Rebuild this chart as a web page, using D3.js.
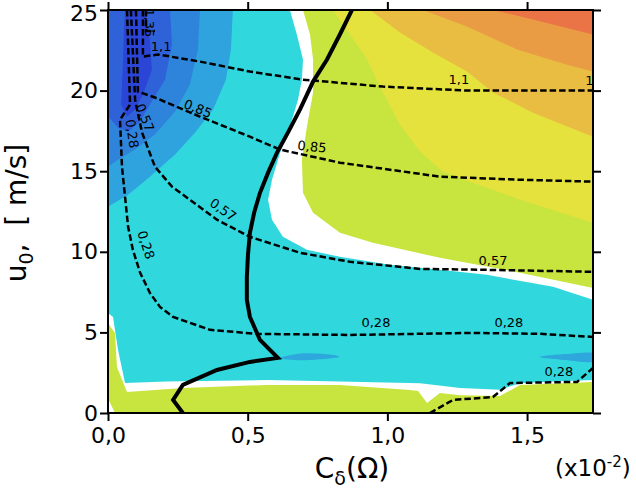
<!DOCTYPE html>
<html>
<head>
<meta charset="utf-8">
<script src="https://cdn.jsdelivr.net/npm/d3@7"></script>
<style>
  body { margin: 0; background: #fff; }
  text { font-family: "DejaVu Sans", Verdana, sans-serif; }
</style>
</head>
<body>
<div id="chart"></div>
<script>
const width = 636, height = 497;

// axes
const xTicks = [0, 0.5, 1.0, 1.5];
const yTicks = [0, 5, 10, 15, 20, 25];

// filled bands, [C_delta (x1e-2), u0 (m/s)]
const whiteZone = [[0,25],[0.698,25],[0.723,23.48],[0.734,21.93],[0.734,19.88],[0.712,17.76],[0.694,15.71],[0.698,13.66],[0.734,12.42],[0.830,11.18],[0.948,10.56],[1.188,9.63],[1.475,8.70],[1.736,7.76],[1.736,1.93],[1.475,1.74],[1.403,1.05],[1.260,1.10],[1.188,1.24],[1.142,0.62],[1.110,1.36],[1.081,1.43],[0.830,1.74],[0.569,1.74],[0.268,1.55],[0.068,1.30],[0.032,2.86],[0.025,4.97],[0.007,5.40],[0,5.65]];
const whiteCorner = [[0,0],[0,0.9],[0.025,0]];
const cyanZone = [[0,25],[0.651,25],[0.676,23.48],[0.698,21.93],[0.694,20.68],[0.680,19.44],[0.651,17.76],[0.616,16.15],[0.587,14.47],[0.573,13.23],[0.587,11.99],[0.626,10.93],[0.712,10.12],[0.830,9.69],[1.009,9.19],[1.188,8.88],[1.356,8.57],[1.593,7.83],[1.736,7.02],[1.736,2.05],[1.593,1.95],[1.475,1.85],[1.403,1.45],[1.260,1.55],[1.117,1.85],[0.830,1.95],[0.569,2.05],[0.211,1.95],[0.061,1.86],[0.036,3.91],[0.018,5.96],[0,6.21]];
const blueA = [[0,25],[0.447,25],[0.440,22.55],[0.422,20.68],[0.376,18.82],[0.311,17.39],[0.240,16.03],[0.150,14.66],[0.072,13.54],[0,12.8]];
const blueB = [[0,25],[0.329,25],[0.322,22.55],[0.293,20.37],[0.240,18.70],[0.168,17.27],[0.097,16.34],[0.036,15.71],[0,15.28]];
const blueC = [[0,25],[0.222,25],[0.229,22.86],[0.204,20.68],[0.150,19.13],[0.115,18.07],[0.072,17.45],[0.036,17.70],[0,18.39]];
const blueD = [[0.061,25],[0.132,25],[0.150,23.17],[0.157,21.30],[0.125,19.75],[0.097,18.82],[0.068,18.39],[0.047,19.13],[0.054,21.93],[0.057,23.79]];
const streakLeft = [[0.616,3.40],[0.700,3.70],[0.800,3.62],[0.822,3.45],[0.700,3.28]];
const streakRight = [[1.546,3.48],[1.636,3.66],[1.736,3.73],[1.736,3.17],[1.636,3.29]];
const yellowZone = [[0.805,25],[0.866,23.48],[0.927,21.93],[0.984,19.88],[1.045,17.89],[1.117,16.21],[1.199,14.97],[1.296,14.35],[1.475,13.23],[1.736,11.80],[1.736,25]];
const goldZone = [[0.938,25],[1.045,23.60],[1.163,22.36],[1.285,21.18],[1.378,19.88],[1.521,18.63],[1.736,17.14],[1.736,25]];
const orangeZone = [[1.127,25],[1.285,23.98],[1.464,22.55],[1.643,21.61],[1.736,21.18],[1.736,25]];
const redZone = [[1.378,25],[1.521,24.41],[1.736,23.48],[1.736,25]];

// thick solid boundary
const boundary = [[0.873,25],[0.830,23.48],[0.784,21.93],[0.734,20.56],[0.687,18.82],[0.644,17.39],[0.605,16.15],[0.573,14.91],[0.544,13.66],[0.523,12.42],[0.508,11.18],[0.501,9.81],[0.497,8.45],[0.497,7.02],[0.508,5.96],[0.544,4.53],[0.608,3.42],[0.508,3.17],[0.390,2.67],[0.268,1.74],[0.233,0.81],[0.268,0]];

// dashed contours
const c028 = [[0.068,25],[0.079,19.13],[0.043,18.20],[0.050,15.28],[0.072,11.55],[0.089,10.12],[0.115,8.70],[0.150,7.45],[0.186,6.58],[0.233,5.96],[0.365,5.16],[0.533,4.91],[0.866,4.84],[1.306,4.97],[1.546,4.91],[1.736,4.72]];
const c057 = [[0.082,25],[0.097,19.44],[0.104,18.82],[0.122,17.39],[0.168,15.28],[0.229,14.04],[0.293,13.23],[0.390,11.99],[0.508,10.93],[0.687,9.94],[0.866,9.38],[1.117,8.94],[1.356,8.88],[1.736,8.76]];
const c085 = [[0.100,25],[0.107,19.94],[0.168,19.57],[0.211,19.25],[0.329,18.39],[0.508,17.14],[0.616,16.34],[0.830,15.53],[1.188,14.66],[1.475,14.47],[1.736,14.35]];
const c110 = [[0.125,25],[0.125,22.11],[0.179,22.24],[0.329,21.80],[0.508,21.18],[0.698,20.68],[0.984,20.25],[1.285,20.00],[1.736,20.00]];
const c135 = [[0.136,25],[0.136,23.7],[0.168,23.7]];
const c028b = [[1.152,0],[1.235,0.81],[1.378,0.99],[1.439,1.86],[1.679,1.93],[1.736,2.80]];

const labels = [
  {t: '1,1', x: 0.190, y: 22.73, a: 0},
  {t: '1,1', x: 1.256, y: 20.68, a: 0},
  {t: '1,1', x: 1.745, y: 20.62, a: 0},
  {t: '1,35', x: 0.150, y: 24.2, a: 90},
  {t: '0,85', x: 0.322, y: 18.88, a: 22},
  {t: '0,85', x: 0.730, y: 16.52, a: 6},
  {t: '0,57', x: 0.132, y: 18.32, a: 68},
  {t: '0,57', x: 0.412, y: 12.61, a: 35},
  {t: '0,57', x: 1.378, y: 9.44, a: 0},
  {t: '0,28', x: 0.086, y: 17.33, a: 82},
  {t: '0,28', x: 0.136, y: 10.43, a: 72},
  {t: '0,28', x: 0.959, y: 5.59, a: 0},
  {t: '0,28', x: 1.435, y: 5.59, a: 0},
  {t: '0,28', x: 1.614, y: 2.55, a: 0}
];

const x = d3.scaleLinear().domain([0, 1.736]).range([108, 593]);
const y = d3.scaleLinear().domain([0, 25]).range([413, 10]);

const svg = d3.select('#chart').append('svg')
  .attr('width', width)
  .attr('height', height);

svg.append('defs').append('clipPath').attr('id', 'plot')
  .append('rect')
  .attr('x', x(0)).attr('y', y(25))
  .attr('width', x(1.736) - x(0)).attr('height', y(0) - y(25));

const g = svg.append('g').attr('clip-path', 'url(#plot)');

const line = d3.line().x(d => x(d[0])).y(d => y(d[1]));

// background band
g.append('rect')
  .attr('x', x(0)).attr('y', y(25))
  .attr('width', x(1.736) - x(0)).attr('height', y(0) - y(25))
  .attr('fill', '#c8e43e');

const fills = [
  [whiteZone, '#ffffff'],
  [whiteCorner, '#ffffff'],
  [cyanZone, '#30d8de'],
  [blueA, '#2ea3dd'],
  [blueB, '#2e84db'],
  [blueC, '#2f62d9'],
  [blueD, '#2b45d7'],
  [yellowZone, '#e5e23e'],
  [goldZone, '#e8bd42'],
  [orangeZone, '#e99c44'],
  [redZone, '#ea7446']
];

g.selectAll('path.band')
  .data(fills)
  .join('path')
    .attr('class', 'band')
    .attr('d', d => line(d[0]) + 'Z')
    .attr('fill', d => d[1]);

const blob = d3.line().x(d => x(d[0])).y(d => y(d[1])).curve(d3.curveCardinalClosed);
g.selectAll('path.streak')
  .data([streakLeft, streakRight])
  .join('path')
    .attr('class', 'streak')
    .attr('d', blob)
    .attr('fill', '#2ea8dc');

// dashed contours
g.selectAll('path.contour')
  .data([c028, c057, c085, c110, c135, c028b])
  .join('path')
    .attr('class', 'contour')
    .attr('d', line)
    .attr('fill', 'none')
    .attr('stroke', '#000')
    .attr('stroke-width', 2.5)
    .attr('stroke-dasharray', '6.5,3');

// contour labels
g.selectAll('text.lab')
  .data(labels)
  .join('text')
    .attr('class', 'lab')
    .attr('transform', d => `translate(${x(d.x)},${y(d.y)}) rotate(${d.a})`)
    .attr('text-anchor', 'middle')
    .attr('dominant-baseline', 'central')
    .style('font-size', '13px')
    .text(d => d.t);

// thick boundary
g.append('path')
  .attr('d', line(boundary))
  .attr('fill', 'none')
  .attr('stroke', '#000')
  .attr('stroke-width', 4)
  .attr('stroke-linejoin', 'miter');

// axes
const fmt = d => d3.format('.1f')(d).replace('.', ',');
const styleAxis = sel => {
  sel.select('.domain').remove();
  sel.selectAll('line').attr('stroke', '#000').attr('stroke-width', 2);
  sel.selectAll('text').style('font-size', '22px').attr('fill', '#000');
};

svg.append('g').attr('transform', `translate(0,${y(0)})`)
  .call(d3.axisBottom(x).tickValues(xTicks).tickFormat(fmt).tickSize(8).tickPadding(6))
  .call(styleAxis);
svg.append('g').attr('transform', `translate(0,${y(25)})`)
  .call(d3.axisTop(x).tickValues(xTicks).tickFormat('').tickSize(8))
  .call(styleAxis);
const yAx = svg.append('g').attr('transform', `translate(${x(0)},0)`)
  .call(d3.axisLeft(y).tickValues(yTicks).tickSize(8).tickPadding(2))
  .call(styleAxis);
// keep the top label inside the page
yAx.selectAll('.tick text').filter(d => d === 25).attr('dy', '0.48em');
svg.append('g').attr('transform', `translate(${x(1.736)},0)`)
  .call(d3.axisRight(y).tickValues(yTicks).tickFormat('').tickSize(8))
  .call(styleAxis);

svg.append('rect')
  .attr('x', x(0)).attr('y', y(25))
  .attr('width', x(1.736) - x(0)).attr('height', y(0) - y(25))
  .attr('fill', 'none')
  .attr('stroke', '#000')
  .attr('stroke-width', 2);

// titles
const xt = svg.append('text')
  .attr('x', 352).attr('y', 478)
  .attr('text-anchor', 'middle')
  .style('font-size', '28px');
xt.append('tspan').text('C');
xt.append('tspan').attr('dy', 7).style('font-size', '19px').text('δ');
xt.append('tspan').attr('dy', -7).text('(Ω)');

const ex = svg.append('text')
  .attr('x', 555).attr('y', 476)
  .style('font-size', '23px');
ex.append('tspan').text('(x10');
ex.append('tspan').attr('dy', -9).style('font-size', '15px').text('-2');
ex.append('tspan').attr('dy', 9).text(')');

const yt = svg.append('text')
  .attr('transform', 'translate(26,213) rotate(-90)')
  .attr('text-anchor', 'middle')
  .style('font-size', '28px')
  .style('white-space', 'pre');
yt.append('tspan').text('u');
yt.append('tspan').attr('dy', 7).style('font-size', '19px').text('0');
yt.append('tspan').attr('dy', -7).text(',  [ m/s]');
</script>
</body>
</html>
